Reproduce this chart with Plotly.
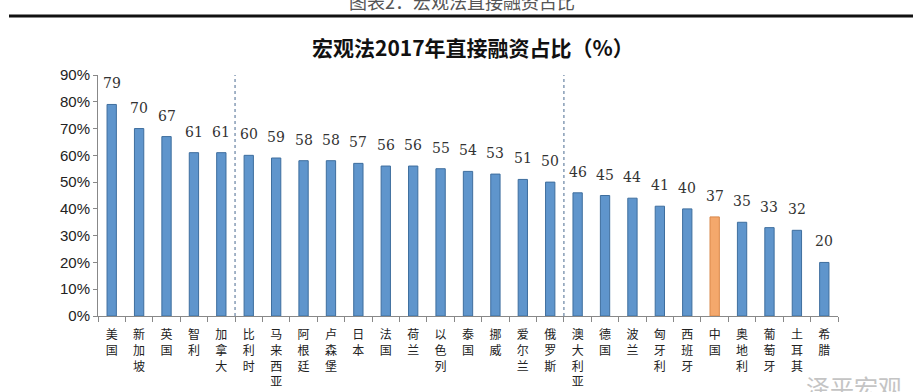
import plotly.graph_objects as go

categories = ["美国", "新加坡", "英国", "智利", "加拿大", "比利时", "马来西亚", "阿根廷", "卢森堡",
              "日本", "法国", "荷兰", "以色列", "泰国", "挪威", "爱尔兰", "俄罗斯", "澳大利亚",
              "德国", "波兰", "匈牙利", "西班牙", "中国", "奥地利", "葡萄牙", "土耳其", "希腊"]
values = [79, 70, 67, 61, 61, 60, 59, 58, 58, 57, 56, 56, 55, 54, 53, 51, 50, 46,
          45, 44, 41, 40, 37, 35, 33, 32, 20]
highlight = "中国"
tick_vals = [0, 10, 20, 30, 40, 50, 60, 70, 80, 90]
tick_text = [f"{v}%" for v in tick_vals]
group_breaks = [4.5, 16.5]

title = "宏观法2017年直接融资占比（%）"
header = "图表2：宏观法直接融资占比"
watermark = "泽平宏观"

L, R, T, B = 98, 85, 75, 76
W, H = 923, 392
plot_h = H - T - B
plot_w = W - L - R

def py(p):
    return (H - B - p) / plot_h

def px(p):
    return (p - L) / plot_w

colors = ["#f4a86c" if c == highlight else "#5f95cc" for c in categories]
edges = ["#d9884a" if c == highlight else "#3e6e9e" for c in categories]
ticklabels = ["<br>".join(list(c)) for c in categories]

fig = go.Figure()
fig.add_trace(go.Bar(
    x=categories, y=values, width=0.34,
    marker=dict(color=colors, line=dict(color=edges, width=1)),
    hoverinfo="x+y", showlegend=False,
))

annotations = []
for c, v in zip(categories, values):
    annotations.append(dict(
        x=c, y=v, xref="x", yref="y", text=str(v), showarrow=False,
        yanchor="bottom", yshift=11,
        font=dict(family="DejaVu Serif, Liberation Serif, serif", size=14, color="#333333"),
    ))

annotations.append(dict(
    x=px(462), y=py(1), xref="paper", yref="paper", text=header, showarrow=False,
    xanchor="center", yanchor="middle",
    font=dict(family="Noto Sans CJK SC", size=18, color="#555555"),
))
annotations.append(dict(
    x=px(473), y=py(47), xref="paper", yref="paper", text="<b>" + title + "</b>", showarrow=False,
    xanchor="center", yanchor="middle",
    font=dict(family="Noto Sans CJK SC", size=21, color="#111111"),
))
annotations.append(dict(
    x=px(854), y=py(386), xref="paper", yref="paper", text=watermark, showarrow=False,
    xanchor="center", yanchor="middle",
    font=dict(family="Noto Sans CJK SC", size=24, color="#c4c4c4"),
))

shapes = [dict(type="line", xref="paper", yref="paper", x0=px(9), x1=px(913),
               y0=py(16), y1=py(16), line=dict(color="#111111", width=3))]
for g in group_breaks:
    shapes.append(dict(type="line", xref="x", yref="paper", x0=g, x1=g, y0=0, y1=1,
                       line=dict(color="#4a6a90", width=1, dash="3px,3px")))

fig.update_layout(
    width=W, height=H,
    margin=dict(l=L, r=R, t=T, b=B, autoexpand=False),
    paper_bgcolor="white", plot_bgcolor="white",
    annotations=annotations, shapes=shapes,
    xaxis=dict(
        tickmode="array", tickvals=categories, ticktext=ticklabels,
        tickangle=0, tickson="boundaries", ticks="outside", ticklen=5,
        tickcolor="#888888", showline=True, linecolor="#888888", linewidth=1,
        showgrid=False, automargin=False, fixedrange=True, ticklabelstandoff=8,
        tickfont=dict(family="Noto Sans CJK SC", size=12, color="#222222"),
        range=[-0.5, len(categories) - 0.5],
    ),
    yaxis=dict(
        range=[0, 90], tickmode="array", tickvals=tick_vals, ticktext=tick_text,
        ticks="outside", ticklen=4, tickcolor="#888888",
        showline=True, linecolor="#888888", linewidth=1, showgrid=False,
        zeroline=False, automargin=False,
        tickfont=dict(family="Liberation Sans, Arial, sans-serif", size=15, color="#222222"),
    ),
)

fig.write_html("out.html", config={"displayModeBar": False},
               post_script="document.body.style.margin='0';document.body.style.overflow='hidden';")
